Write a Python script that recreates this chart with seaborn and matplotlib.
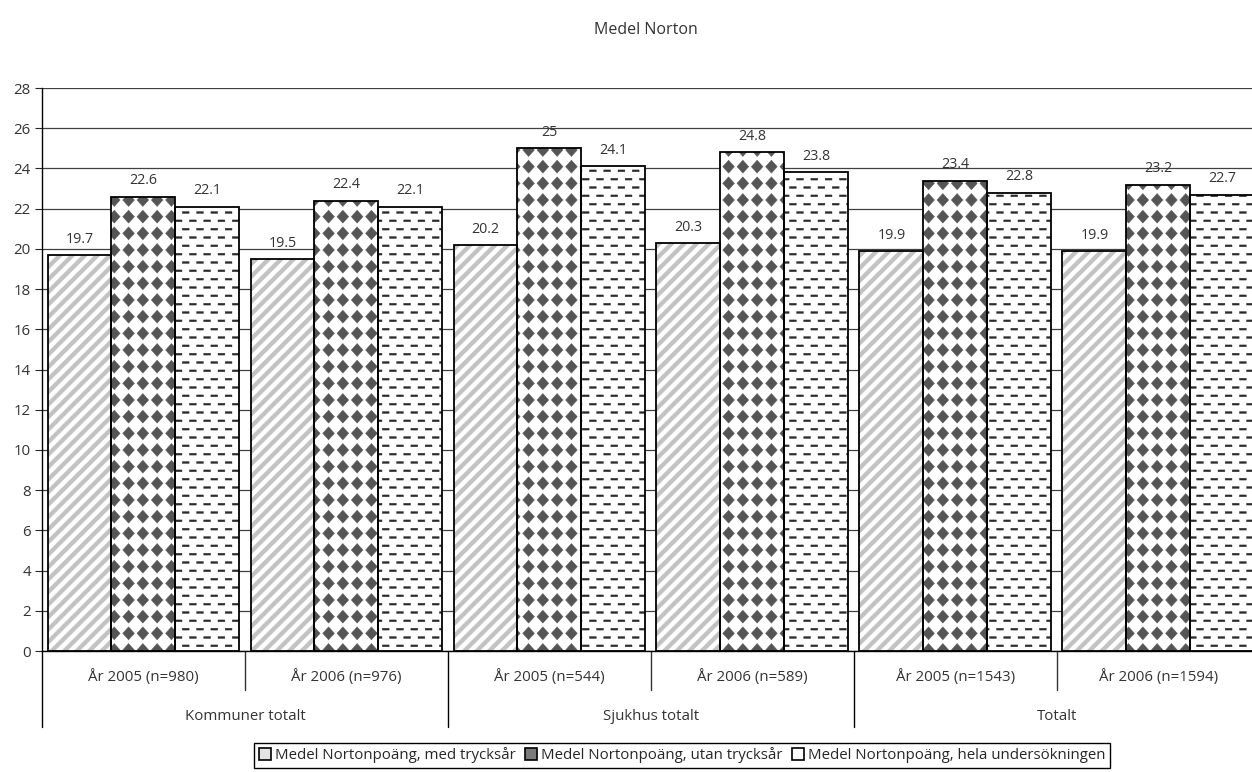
import pandas as pd
import seaborn as sns
import matplotlib.pyplot as plt
import matplotlib.path as mpath
from matplotlib.patches import Rectangle, Patch
from matplotlib.transforms import blended_transform_factory
from functools import lru_cache

# === Data ===
grupper = ["Kommuner totalt", "Sjukhus totalt", "Totalt"]
perioder = ["År 2005 (n=980)", "År 2006 (n=976)",
            "År 2005 (n=544)", "År 2006 (n=589)",
            "År 2005 (n=1543)", "År 2006 (n=1594)"]
serier = ["Medel Nortonpoäng, med trycksår",
          "Medel Nortonpoäng, utan trycksår",
          "Medel Nortonpoäng, hela undersökningen"]
med_trycksar = [19.7, 19.5, 20.2, 20.3, 19.9, 19.9]
utan_trycksar = [22.6, 22.4, 25.0, 24.8, 23.4, 23.2]
hela = [22.1, 22.1, 24.1, 23.8, 22.8, 22.7]

df = pd.DataFrame({
    "period": perioder * 3,
    "serie": [s for s in serier for _ in perioder],
    "varde": med_trycksar + utan_trycksar + hela,
})

# === Egna mönster (ränder, rutor, streck) ===
orig_hatch = mpath.Path.hatch


@lru_cache(16)
def monster(hatch, density=6):
    polys = []
    if hatch == "/":
        n, w = 8, 0.055
        for k in range(-n - 1, n + 1):
            x0 = k / n
            polys.append([(x0, 0), (x0 + w, 0), (x0 + w + 1, 1), (x0 + 1, 1)])
    elif hatch == "O":
        nx, ny = 7, 6
        rx, ry = 0.41 / nx, 0.39 / ny
        for i in range(nx + 1):
            for j in range(ny + 1):
                cx, cy = i / nx, j / ny
                polys.append([(cx - rx, cy), (cx, cy - ry), (cx + rx, cy), (cx, cy + ry)])
    elif hatch == "-":
        nx, ny = 7, 12
        hl, hh = 0.034, 0.009
        for j in range(ny):
            off = 0.5 / nx if j % 2 else 0
            for i in range(-1, nx + 1):
                cx, cy = i / nx + off, (j + 0.5) / ny
                polys.append([(cx - hl, cy - hh), (cx + hl, cy - hh),
                              (cx + hl, cy + hh), (cx - hl, cy + hh)])
    else:
        return orig_hatch(hatch, density)
    verts, codes = [], []
    for p in polys:
        verts += p + [p[0]]
        codes += [mpath.Path.MOVETO] + [mpath.Path.LINETO] * (len(p) - 1) + [mpath.Path.CLOSEPOLY]
    return mpath.Path(verts, codes)


mpath.Path.hatch = staticmethod(monster)

# === Stil ===
sns.set_style("white")
plt.rcParams["font.family"] = ["Open Sans", "DejaVu Sans"]
plt.rcParams["hatch.linewidth"] = 0.3

monster_typ = ["/", "O", "-"]
monster_farg = ["#c2c2c2", "#555555", "#2a2a2a"]
legend_fyll = ["#e4e4e4", "#7a7a7a", "white"]
fs = 10.8

fig = plt.figure(figsize=(12.52, 7.72), dpi=100)
ax = fig.add_axes([0.0335, 0.1567, 0.9728, 0.7293])

sns.barplot(data=df, x="period", y="varde", hue="serie", hue_order=serier,
            palette=["white"] * 3, saturation=1, width=0.945, linewidth=0,
            legend=False, ax=ax)

for cont, h, c in zip(ax.containers, monster_typ, monster_farg):
    for p in cont:
        p.set_hatch(h)
        p.set_edgecolor(c)
        p.set_linewidth(0)

# svarta ramar runt staplarna
for p in list(ax.patches):
    ax.add_patch(Rectangle((p.get_x(), p.get_y()), p.get_width(), p.get_height(),
                           fill=False, ec="black", lw=1.3, zorder=3))

for cont in ax.containers:
    ax.bar_label(cont, labels=[f"{v:g}" for v in cont.datavalues],
                 padding=6, fontsize=fs - 0.5, color="#333333")

ax.set_xlim(-0.5, len(perioder) - 0.5)
ax.set_ylim(0, 28)
ax.set_yticks(range(0, 29, 2))
ax.set_axisbelow(True)
ax.yaxis.grid(True, color="#404040", lw=0.9)
ax.xaxis.grid(False)
ax.tick_params(axis="y", length=5, width=0.8, direction="out", left=True,
               labelsize=fs, labelcolor="#333333", pad=3)
ax.tick_params(axis="x", length=0, pad=13, labelsize=fs, labelcolor="#333333")
ax.set_xlabel("")
ax.set_ylabel("")
for s in ["top", "right"]:
    ax.spines[s].set_visible(False)
for s in ["left", "bottom"]:
    ax.spines[s].set_color("black")
    ax.spines[s].set_linewidth(1.0)

# grupperade x-etiketter och avdelare
trans = blended_transform_factory(ax.transData, ax.transAxes)
for i, g in enumerate(grupper):
    ax.text(2 * i + 0.5, -0.1155, g, transform=trans, ha="center", va="center",
            fontsize=fs, color="#333333")
for i in range(len(perioder) + 1):
    lang = i % 2 == 0
    ax.plot([i - 0.5, i - 0.5], [0, -0.135 if lang else -0.069], transform=trans,
            color="#333333" if not lang else "black", lw=1.0, clip_on=False)

fig.text(0.516, 1 - 30 / 772, "Medel Norton", ha="center", va="center",
         fontsize=11.5, color="#333333")

handles = [Patch(facecolor=f, edgecolor="black", lw=1.2) for f in legend_fyll]
fig.legend(handles, serier, loc="center", bbox_to_anchor=(0.545, 0.022), ncol=3,
           fontsize=fs, frameon=True, fancybox=False, framealpha=1,
           edgecolor="black", handlelength=0.8, handleheight=0.8,
           handletextpad=0.3, columnspacing=0.6, borderpad=0.3,
           borderaxespad=0)

fig.savefig("out.png", dpi=100)
